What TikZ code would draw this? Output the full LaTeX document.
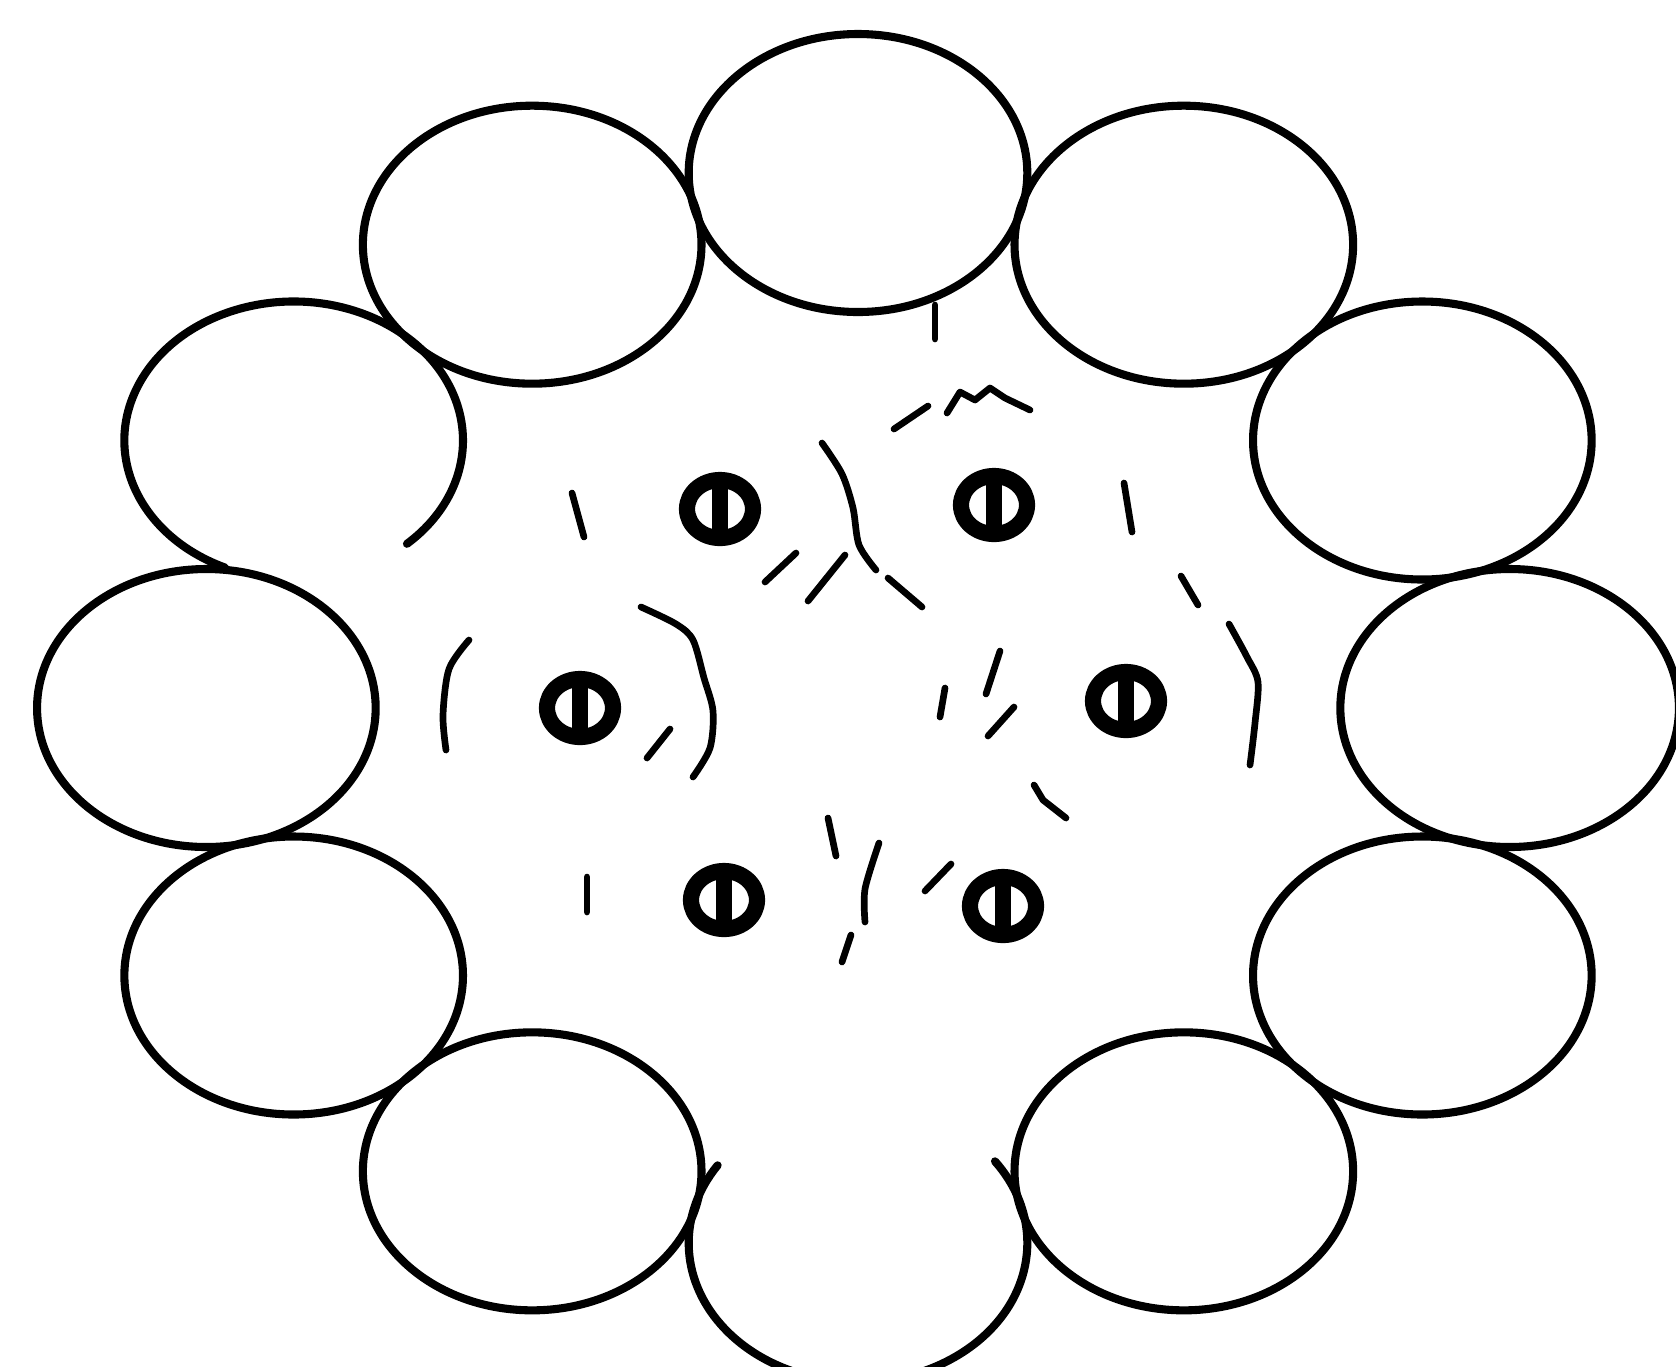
\documentclass[tikz,border=0pt]{standalone}
\usepackage{tikz}
\usetikzlibrary{calc}

\begin{document}
\begin{tikzpicture}[x=0.01cm,y=-0.01cm,line cap=round,line join=round,
    ring/.style={line width=2.3pt},
    blob/.style={line width=4.6pt},
    scratch/.style={line width=1.9pt}]
  \useasboundingbox (0,0) rectangle (1676,1366);
  \def\cx{858} \def\cy{708}  % centre of the ring
  \def\R{535}                % ring radius (before stretching)
  \def\r{139}                % cell radius (before stretching)

  % --- outer ring of twelve cells ---
  \begin{scope}[shift={(\cx,\cy)},xscale=1.218]
    \foreach \a in {0,30,...,330}{
      \ifnum\a=90 \else\ifnum\a=210 \else
        \draw[ring] (\a:\R) circle (\r);
      \fi\fi
    }
    % the two cells drawn open
    \draw[ring] (90:\R) ++(-36:\r) arc[start angle=-36,end angle=214,radius=\r];
    \draw[ring] (210:\R) ++(114:\r) arc[start angle=114,end angle=408,radius=\r];
  \end{scope}

  % --- six small nuclei ---
  \foreach \x/\y in {720/509,994/505,580/708,1126/701,724/900,1003/906}{
    \draw[blob] (\x,\y) ellipse [x radius=33,y radius=29];
    \draw[blob] (\x,\y-24) -- (\x,\y+26);
  }

  % --- faint strokes in the middle ---
  \draw[scratch] (935,305) -- (935,339);
  \draw[scratch] (894,429) -- (928,406);
  \draw[scratch] (947,413) -- (960,392) -- (975,400) -- (990,388) -- (1005,398) -- (1030,410);
  \draw[scratch] (572,493) -- (584,537);
  \draw[scratch] (1124,483) -- (1132,532);
  \draw[scratch] plot[smooth] coordinates {(822,443) (842,474) (853,508) (859,545) (876,570)};
  \draw[scratch] (888,578) -- (922,607);
  \draw[scratch] (765,582) -- (796,553);
  \draw[scratch] (808,601) -- (845,555);
  \draw[scratch] (1181,576) -- (1198,605);
  \draw[scratch] plot[smooth] coordinates {(469,640) (449,669) (443,715) (446,750)};
  \draw[scratch] plot[smooth] coordinates {(641,607) (676,624) (693,640) (704,678) (713,711) (710,748) (693,777)};
  \draw[scratch] (647,758) -- (670,729);
  \draw[scratch] (1000,651) -- (986,694);
  \draw[scratch] (945,688) -- (940,717);
  \draw[scratch] (1014,707) -- (988,736);
  \draw[scratch] plot[smooth] coordinates {(1229,624) (1247,657) (1258,682) (1255,723) (1250,765)};
  \draw[scratch] (1034,785) -- (1043,800) -- (1066,818);
  \draw[scratch] (587,877) -- (587,912);
  \draw[scratch] (828,818) -- (836,856);
  \draw[scratch] plot[smooth] coordinates {(879,843) (865,889) (865,922)};
  \draw[scratch] (851,935) -- (842,962);
  \draw[scratch] (951,864) -- (925,891);
\end{tikzpicture}
\end{document}
